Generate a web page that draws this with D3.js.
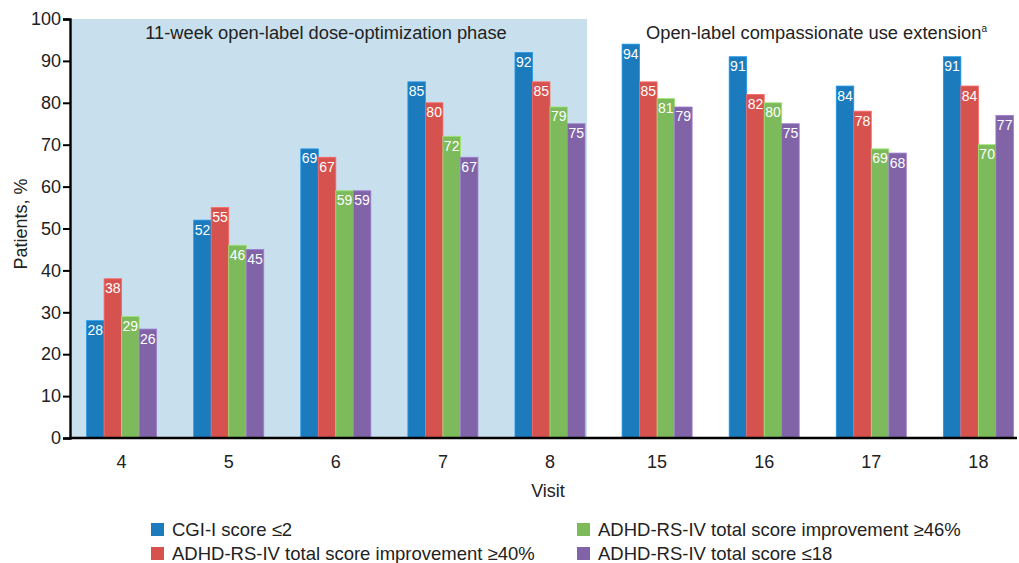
<!DOCTYPE html>
<html>
<head>
<meta charset="utf-8">
<script src="https://cdn.jsdelivr.net/npm/d3@7"></script>
<style>
  body { margin: 0; background: #fff; }
  svg { display: block; font-family: "Liberation Sans", Arial, sans-serif; }
</style>
</head>
<body>
<svg id="chart" width="1019" height="563"></svg>
<script>
// Visits and response rates (% of patients) per outcome
const visits = ["4", "5", "6", "7", "8", "15", "16", "17", "18"];
const cgiScore = [28, 52, 69, 85, 92, 94, 91, 84, 91];
const rsImprove40 = [38, 55, 67, 80, 85, 85, 82, 78, 84];
const rsImprove46 = [29, 46, 59, 72, 79, 81, 80, 69, 70];
const rsTotal18 = [26, 45, 59, 67, 75, 79, 75, 68, 77];
const seriesNames = [
  "CGI-I score \u22642",
  "ADHD-RS-IV total score improvement \u226540%",
  "ADHD-RS-IV total score improvement \u226546%",
  "ADHD-RS-IV total score \u226418"
];
const yTicks = [0, 10, 20, 30, 40, 50, 60, 70, 80, 90, 100];
const phaseVisits = ["4", "5", "6", "7", "8"];

const seriesValues = [cgiScore, rsImprove40, rsImprove46, rsTotal18];
const colors = ["#1b7bbd", "#d6524f", "#7dba5b", "#8064a7"];

const svg = d3.select("#chart");
const margin = { left: 70, top: 19, bottom: 438 };

const x = d3.scaleBand().domain(visits).range([70, 1030]).paddingInner(0.346).paddingOuter(0.155);
const xs = d3.scaleBand().domain(d3.range(4)).range([0, x.bandwidth()]).padding(0);
const y = d3.scaleLinear().domain([0, 100]).range([margin.bottom, margin.top]);

// shaded dose-optimization phase background
const lastPhase = phaseVisits[phaseVisits.length - 1];
const phaseEnd = x(lastPhase) + x.bandwidth() + 2;
svg.append("rect")
  .attr("x", margin.left)
  .attr("y", y(100))
  .attr("width", phaseEnd - margin.left)
  .attr("height", y(0) - y(100))
  .attr("fill", "#c8dfed");

svg.append("text")
  .attr("x", 326)
  .attr("y", 39)
  .attr("text-anchor", "middle")
  .attr("font-size", 18.3)
  .attr("fill", "#222")
  .text("11-week open-label dose-optimization phase");

const ext = svg.append("text")
  .attr("x", 646)
  .attr("y", 39)
  .attr("font-size", 18.3)
  .attr("fill", "#222");
ext.append("tspan").text("Open-label compassionate use extension");
ext.append("tspan").attr("font-size", 10).attr("dy", -7).text("a");

// bars
const groups = svg.append("g").selectAll("g")
  .data(visits)
  .join("g")
  .attr("transform", d => `translate(${x(d)},0)`);

groups.selectAll("rect")
  .data((v, i) => seriesValues.map((s, k) => ({ k, value: s[i] })))
  .join("rect")
  .attr("x", d => xs(d.k))
  .attr("y", d => y(d.value))
  .attr("width", xs.bandwidth())
  .attr("height", d => y(0) - y(d.value))
  .attr("fill", d => colors[d.k])
  .attr("stroke", d => d3.color(colors[d.k]).brighter(0.6))
  .attr("stroke-width", 0.8);

groups.selectAll("text")
  .data((v, i) => seriesValues.map((s, k) => ({ k, value: s[i] })))
  .join("text")
  .attr("x", d => xs(d.k) + xs.bandwidth() / 2)
  .attr("y", d => y(d.value) + 14.5)
  .attr("text-anchor", "middle")
  .attr("font-size", 14)
  .attr("fill", "#fff")
  .text(d => d.value);

// y axis
const yAxis = svg.append("g")
  .attr("transform", `translate(${margin.left},0)`)
  .call(d3.axisLeft(y).tickValues(yTicks).tickSize(7).tickPadding(2));
yAxis.select(".domain").attr("stroke", "#000").attr("stroke-width", 2.4);
yAxis.selectAll(".tick line").attr("stroke", "#000").attr("stroke-width", 2);
yAxis.selectAll(".tick text").attr("font-size", 18).attr("fill", "#222").attr("font-family", "Liberation Sans, Arial, sans-serif");

// x axis
const xAxis = svg.append("g")
  .attr("transform", `translate(0,${y(0)})`)
  .call(d3.axisBottom(x).tickSize(0).tickPadding(17));
xAxis.select(".domain").remove();
xAxis.selectAll(".tick text").attr("font-size", 18).attr("fill", "#222").attr("font-family", "Liberation Sans, Arial, sans-serif");
svg.append("line")
  .attr("x1", margin.left - 1).attr("x2", 1017)
  .attr("y1", y(0)).attr("y2", y(0))
  .attr("stroke", "#000").attr("stroke-width", 2.4);

svg.append("text")
  .attr("x", 548).attr("y", 497)
  .attr("text-anchor", "middle")
  .attr("font-size", 18)
  .attr("fill", "#222")
  .text("Visit");

svg.append("text")
  .attr("transform", `translate(27,224) rotate(-90)`)
  .attr("text-anchor", "middle")
  .attr("font-size", 18)
  .attr("fill", "#222")
  .text("Patients, %");

// legend
const legendPos = [
  { x: 151, y: 529.5 },
  { x: 151, y: 553.5 },
  { x: 577, y: 529.5 },
  { x: 577, y: 553.5 }
];
const legend = svg.append("g").selectAll("g")
  .data(seriesNames)
  .join("g")
  .attr("transform", (d, i) => `translate(${legendPos[i].x},${legendPos[i].y})`);
legend.append("rect")
  .attr("x", 0).attr("y", -6.5)
  .attr("width", 13).attr("height", 13)
  .attr("fill", (d, i) => colors[i]);
legend.append("text")
  .attr("x", 21).attr("y", 6.5)
  .attr("font-size", 18.5)
  .attr("fill", "#222")
  .text(d => d);
</script>
</body>
</html>
